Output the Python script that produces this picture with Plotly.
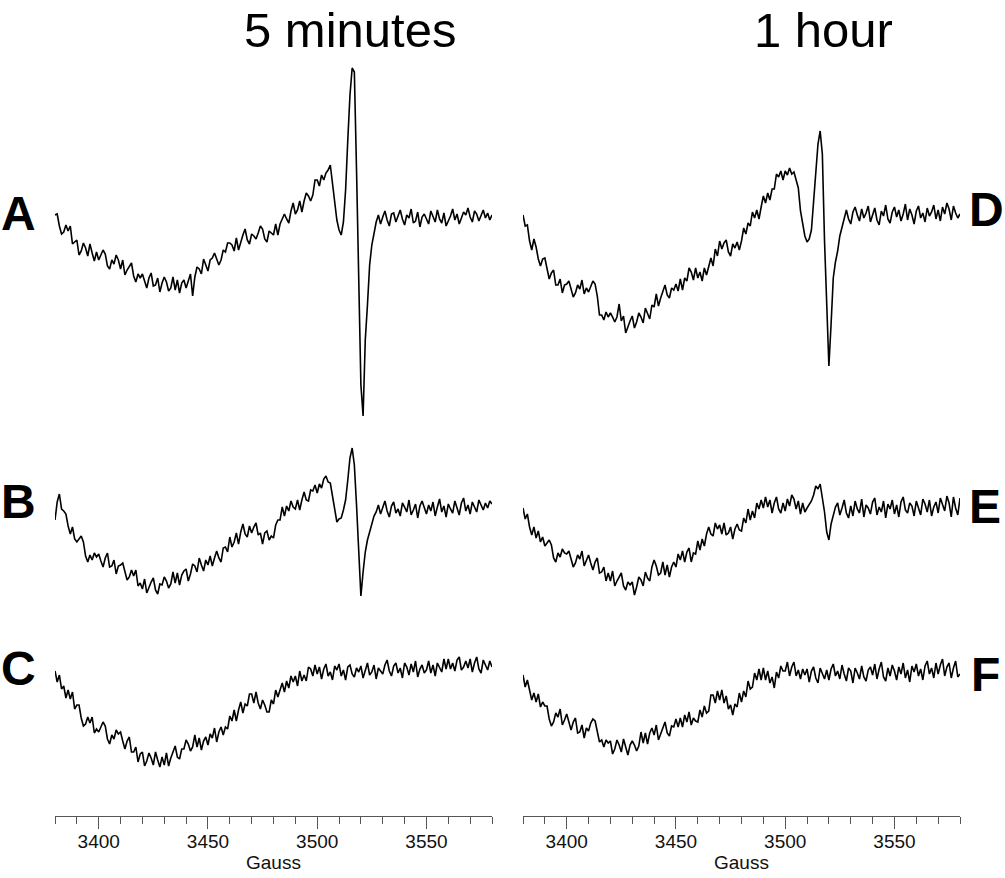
import plotly.graph_objects as go

# ---------------- data ----------------
GAUSS = list(range(3380, 3581))  # magnetic field, 1 G steps

TITLES = ["5 minutes", "1 hour"]
PANEL_LABELS_LEFT = ["A", "B", "C"]
PANEL_LABELS_RIGHT = ["D", "E", "F"]
X_TICKS = [3400, 3450, 3500, 3550]
X_LABEL = "Gauss"

# EPR signal (arbitrary units, up = positive)
A = [
    3, 4, -8, -16, -14, -7, -13, -8, -26, -24,
    -22, -37, -33, -25, -30, -38, -26, -35, -43, -34,
    -42, -37, -32, -36, -48, -51, -42, -46, -37, -42,
    -51, -42, -57, -52, -48, -45, -58, -64, -56, -60,
    -56, -63, -70, -60, -55, -68, -67, -60, -74, -65,
    -59, -64, -73, -70, -59, -72, -62, -75, -65, -62,
    -70, -63, -56, -78, -59, -49, -51, -56, -41, -47,
    -53, -42, -40, -35, -42, -47, -42, -32, -34, -25,
    -25, -27, -33, -20, -32, -23, -17, -11, -22, -26,
    -16, -18, -21, -15, -8, -11, -21, -24, -13, -15,
    -17, -6, -17, -6, -1, 4, -1, -5, 7, 15,
    4, 8, 17, 6, 17, 25, 22, 17, 23, 38,
    38, 32, 43, 38, 45, 48, 53,
    36, 18, -2, -12, -17, -4, 28, 78, 123, 150, 146, 48, -72, -167, -198, -122, -87, -47, -27, -14, -4,
    3, -6, 1, 7, -2, -8, 4, 5, -4, 2,
    8, -1, -7, 3, 0, 9, -5, -3, 6, -9,
    1, 4, -2, -6, 7, 2, -4, 8, -1, -5,
    5, -8, -3, 2, 9, -2, 4, -6, 0, 6,
    3, 10, 1, -4, 7, 4, -3, 2, 8, 0,
    5, -2, 3,
]

B = [
    -10, 8, 16, 1, -1, -4, -16, -24, -17, -29,
    -32, -29, -26, -32, -46, -52, -45, -50, -43, -47,
    -44, -51, -57, -48, -43, -57, -56, -50, -64, -56,
    -55, -53, -63, -70, -67, -60, -66, -60, -76, -73,
    -79, -69, -83, -77, -72, -68, -80, -84, -74, -75,
    -67, -71, -78, -74, -62, -73, -63, -75, -65, -61,
    -59, -71, -64, -54, -56, -62, -48, -55, -61, -50,
    -55, -46, -56, -48, -41, -48, -52, -38, -37, -42,
    -27, -37, -32, -23, -34, -22, -14, -24, -27, -16,
    -23, -17, -13, -25, -23, -34, -23, -21, -30, -26,
    -28, -15, -10, -10, 3, -6, 4, -1, 9, 3,
    1, 10, 0, 10, 18, 10, 9, 20, 19, 25,
    17, 26, 22, 31, 34, 28, 27,
    14, 2, -12, -9, -8, 0, 10, 30, 52, 62, 45, 5, -45, -86, -62, -42, -30, -22, -12, -6, -2,
    5, -4, 2, 9, -1, -7, 4, 8, -3, 1,
    -6, 7, 3, -2, 10, -5, 0, 6, -8, 4,
    9, 2, -4, 5, -1, 8, -6, 3, 11, -2,
    4, -7, 6, 1, -3, 9, 2, -5, 7, 12,
    -1, 5, -4, 8, 3, -2, 10, 4, 0, 7,
    2, 9, 6,
]

C = [
    -3, -14, -7, -21, -18, -30, -22, -31, -24, -41,
    -37, -37, -50, -58, -56, -49, -55, -49, -65, -61,
    -64, -59, -54, -58, -71, -76, -67, -71, -62, -66,
    -64, -73, -81, -73, -69, -84, -84, -79, -94, -86,
    -84, -98, -93, -85, -90, -97, -84, -92, -99, -89,
    -97, -85, -98, -90, -84, -78, -89, -91, -81, -81,
    -72, -76, -83, -79, -67, -79, -70, -82, -73, -69,
    -77, -66, -70, -60, -74, -64, -59, -67, -59, -61,
    -48, -53, -42, -53, -42, -34, -45, -36, -38, -26,
    -26, -35, -24, -35, -41, -32, -37, -44, -44, -32,
    -36, -22, -29, -22, -15, -24, -13, -20, -8, -14,
    -8, -18, -3, -13, -7, -13, 1, -1, -8, 3,
    -6, 1, -11, -1, 4, -8, -4, -12, 2, -2,
    4, -8, -2, -12, 1, 3, -6, -9, 0, -4,
    2, -10, -1, 5, -7, -4, 3, -11, 0, -3,
    -6, 3, 8, -3, -8, 2, 5, -5, 0, -10,
    5, 1, -7, 4, -4, 7, -9, -1, 3, -5,
    -2, 7, -5, 3, -8, 5, 1, -4, 9, -1,
    9, -1, 5, -3, 8, 11, -2, 1, 7, 0,
    9, -4, 5, 11, -1, -5, 8, 3, -2, 7,
    1,
]

D = [
    1, -10, -9, -25, -34, -23, -31, -43, -50, -43,
    -42, -53, -63, -57, -54, -69, -69, -63, -77, -69,
    -68, -65, -74, -81, -77, -69, -73, -64, -78, -72,
    -76, -70, -65, -68, -80, -99, -99, -104, -96, -101,
    -97, -101, -106, -101, -88, -105, -100, -117, -110, -105,
    -100, -112, -106, -97, -101, -107, -92, -98, -103, -89,
    -91, -78, -90, -82, -76, -69, -79, -82, -72, -74,
    -68, -75, -63, -74, -62, -65, -52, -56, -64, -52,
    -62, -56, -65, -52, -59, -49, -42, -50, -33, -40,
    -25, -33, -27, -24, -36, -40, -28, -32, -26, -34,
    -25, -12, -18, -7, -10, 4, -2, 6, -3, 9,
    20, 13, 23, 16, 27, 27, 42, 39, 45, 36,
    45, 41, 48, 42, 44, 36, 28,
    5, -10, -20, -26, -23, -14, 15, 50, 72, 85, 62, -25, -95, -150, -108, -62, -46, -35, -20, -12, -4,
    6, -3, -8, 4, 9, 1, -5, 7, -2, 3,
    10, -6, 2, 8, -4, -9, 5, 0, 11, -3,
    -7, 4, 9, -1, 6, -5, 2, 12, -4, 7,
    1, -8, 5, 10, -2, 3, -6, 8, 0, 4,
    11, -3, 6, -5, 9, 2, 13, 7, -4, 10,
    3, -2, 2,
]

E = [
    2, -9, -4, -17, -25, -17, -28, -21, -32, -27,
    -36, -33, -30, -35, -48, -52, -43, -47, -39, -43,
    -44, -41, -50, -57, -53, -45, -49, -41, -56, -51,
    -45, -53, -60, -52, -48, -63, -62, -57, -71, -63,
    -71, -61, -76, -71, -67, -63, -76, -80, -72, -75,
    -72, -85, -77, -67, -70, -76, -62, -68, -71, -57,
    -50, -56, -65, -63, -52, -65, -55, -67, -57, -52,
    -57, -44, -50, -41, -52, -42, -38, -52, -43, -44,
    -31, -40, -29, -36, -24, -17, -24, -26, -13, -19,
    -15, -24, -13, -25, -23, -17, -29, -19, -14, -20,
    -21, -8, -13, 1, -10, -1, -8, 7, 1, 10,
    2, 13, 3, 10, -3, 7, 13, 1, -3, 7,
    -1, 11, 4, 15, 11, 1, 9, -4, 7, -2,
    2, 6, 9, 15, 24, 21, 26, 12, -2, -22,
    -30, -14, -4, 3, 7, -5, 2, 10, -3, -8,
    4, -6, 9, 1, -3, 11, -7, 5, 2, -4,
    8, 12, -5, 3, -2, 9, -8, 6, 1, 10,
    -4, 5, -7, 8, 13, 0, -3, 7, 4, -6,
    9, 2, -5, 11, 6, -2, 10, -6, 3, 8,
    -3, 12, 5, -1, 14, 7, -7, 13, 2, -5,
    12,
]

F = [
    -2, -14, -7, -18, -27, -20, -29, -21, -34, -29,
    -33, -33, -46, -53, -49, -40, -44, -36, -52, -47,
    -41, -49, -57, -49, -45, -60, -59, -52, -65, -55,
    -58, -50, -46, -48, -58, -69, -67, -74, -67, -70,
    -68, -81, -76, -67, -72, -79, -66, -74, -82, -72,
    -68, -72, -78, -73, -59, -70, -60, -71, -60, -55,
    -62, -52, -67, -61, -55, -49, -60, -63, -53, -54,
    -46, -54, -45, -54, -42, -49, -39, -52, -45, -48,
    -49, -37, -44, -33, -40, -38, -22, -22, -30, -18,
    -27, -17, -30, -23, -36, -32, -42, -31, -34, -20,
    -29, -18, -24, -8, -16, -14, 0, -7, 4, -7,
    5, -7, 2, -10, -4, -15, 1, -5, 7, 2,
    2, 11, -3, 6, 11, -3, 3, -6, 4, -2,
    4, -9, 2, 6, -5, -10, 5, 0, -6, 3,
    -7, 4, 9, -3, 2, -6, 8, -1, -8, 5,
    2, -10, 5, 0, -6, 7, -4, -8, 3, 6,
    -2, 9, -6, 4, 11, -4, -8, 5, -3, 8,
    2, -7, 6, -1, 10, -5, 3, -9, 7, 1,
    9, -3, 4, -7, 7, 12, -1, 5, -5, 10,
    -1, 8, 14, -3, 6, 10, -5, 5, 12, -4,
    -1,
]

for s in (A, B, C, D, E, F):
    assert len(s) == len(GAUSS), len(s)

# ---------------- layout constants (pixels) ----------------
W, H = 1005, 878
AXIS_Y = 816                      # pixel row of the x axis lines
LEFT_DOM = (55, 492)
RIGHT_DOM = (523, 960)
# vertical pixel row of each spectrum's baseline (stacking offsets)
BASE = {"A": 218, "B": 510, "C": 668, "D": 216, "E": 510, "F": 673}
LABEL_POS = {"A": (18, 214), "B": (18, 501), "C": (18, 668),
             "D": (986, 210), "E": (985, 506), "F": (985, 674)}

FONT = "Liberation Sans, Arial, Helvetica, sans-serif"
LINE_COLOR = "#000000"
AXIS_COLOR = "#555555"

fig = go.Figure()

series = [("A", A, "x", "y"), ("B", B, "x", "y"), ("C", C, "x", "y"),
          ("D", D, "x2", "y2"), ("E", E, "x2", "y2"), ("F", F, "x2", "y2")]
for name, vals, xa, ya in series:
    fig.add_trace(go.Scatter(
        x=GAUSS, y=[v - BASE[name] for v in vals],
        xaxis=xa, yaxis=ya, mode="lines",
        line=dict(color=LINE_COLOR, width=1.6),
        showlegend=False, hoverinfo="skip", name=name,
    ))


def xaxis_cfg(dom, anchor):
    return dict(
        domain=[dom[0] / W, dom[1] / W], range=[3380, 3580], anchor=anchor,
        showline=True, linecolor=AXIS_COLOR, linewidth=1,
        ticks="outside", ticklen=12, tickwidth=1, tickcolor=AXIS_COLOR,
        tickmode="array", tickvals=X_TICKS, ticktext=[str(t) for t in X_TICKS],
        tickfont=dict(family=FONT, size=19, color="#111111"),
        ticklabelstandoff=-4,
        minor=dict(tickmode="linear", tick0=3380, dtick=10, ticks="outside",
                   ticklen=7, tickwidth=1, tickcolor=AXIS_COLOR, showgrid=False),
        showgrid=False, zeroline=False, fixedrange=True,
    )


def yaxis_cfg(anchor):
    return dict(domain=[1 - AXIS_Y / H, 1], range=[-AXIS_Y, 0], anchor=anchor,
                visible=False, showgrid=False, zeroline=False, fixedrange=True)


def px(xp, yp):
    return xp / W, 1 - yp / H


annotations = []
# column titles
for txt, cx in zip(TITLES, (350, 823)):
    x, y = px(cx, 30)
    annotations.append(dict(text=txt, x=x, y=y, xref="paper", yref="paper",
                            xanchor="center", yanchor="middle", showarrow=False,
                            font=dict(family=FONT, size=49, color="#000000")))
# panel letters
for lab in PANEL_LABELS_LEFT + PANEL_LABELS_RIGHT:
    x, y = px(*LABEL_POS[lab])
    annotations.append(dict(text="<b>%s</b>" % lab, x=x, y=y, xref="paper", yref="paper",
                            xanchor="center", yanchor="middle", showarrow=False,
                            font=dict(family=FONT, size=48, color="#000000")))
# axis titles
for dom in (LEFT_DOM, RIGHT_DOM):
    x, y = px((dom[0] + dom[1]) / 2, 862)
    annotations.append(dict(text=X_LABEL, x=x, y=y, xref="paper", yref="paper",
                            xanchor="center", yanchor="middle", showarrow=False,
                            font=dict(family=FONT, size=19, color="#111111")))

fig.update_layout(
    width=W, height=H, margin=dict(l=0, r=0, t=0, b=0),
    paper_bgcolor="white", plot_bgcolor="white",
    xaxis=xaxis_cfg(LEFT_DOM, "y"), yaxis=yaxis_cfg("x"),
    xaxis2=xaxis_cfg(RIGHT_DOM, "y2"), yaxis2=yaxis_cfg("x2"),
    annotations=annotations, showlegend=False,
)

fig.write_html(
    "out.html",
    config={"displayModeBar": False, "staticPlot": True},
    post_script="document.body.style.margin='0px';document.body.style.overflow='hidden';",
)
